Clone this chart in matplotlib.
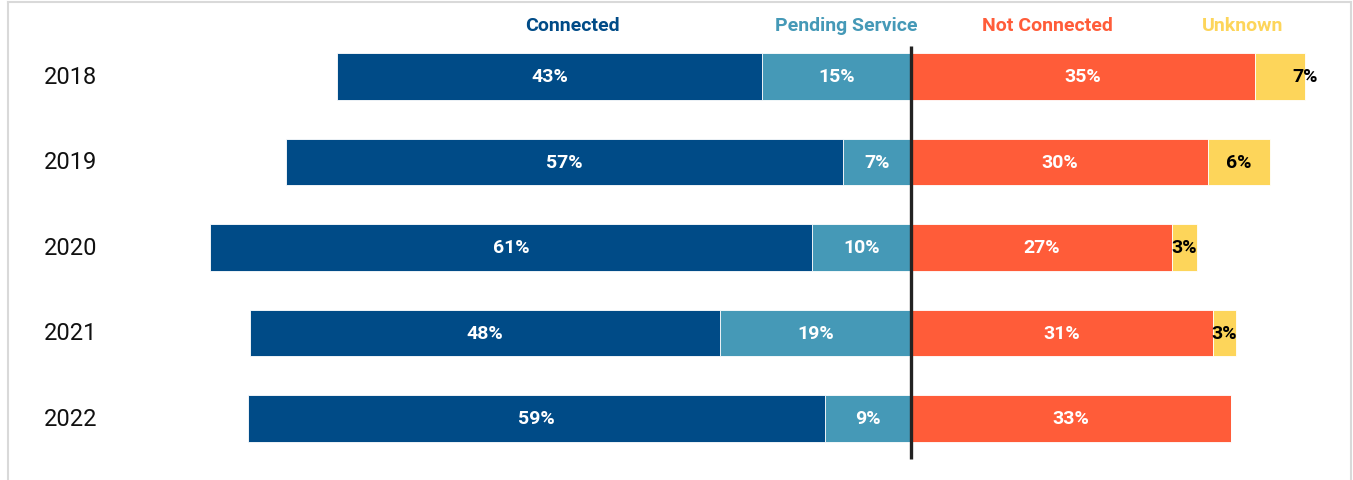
import matplotlib.pyplot as plt
from matplotlib.lines import Line2D

# data (bar widths in %, labels as printed)
years = ['2018', '2019', '2020', '2021', '2022']
connected = [43.4, 56.9, 61.4, 47.9, 58.9]
pending = [15.2, 6.9, 10.1, 19.5, 8.8]
not_connected = [35.1, 30.3, 26.6, 30.8, 32.7]
unknown = [5.1, 6.3, 2.6, 2.4, 0.0]

connected_lbl = ['43%', '57%', '61%', '48%', '59%']
pending_lbl = ['15%', '7%', '10%', '19%', '9%']
not_connected_lbl = ['35%', '30%', '27%', '31%', '33%']
unknown_lbl = ['7%', '6%', '3%', '3%', '']

series_names = ['Connected', 'Pending Service', 'Not Connected', 'Unknown']
colors = ['#004b87', '#4599b7', '#ff5c39', '#fdd55a']

W, H = 1353, 481
px_per_pct = 9.8
center_px = 911

fig = plt.figure(figsize=(W / 100, H / 100), dpi=100)
ax = fig.add_axes([0, 0, 1, 1])
ax.axis('off')
ax.set_xlim(-center_px / px_per_pct, (W - center_px) / px_per_pct)
# rows are 85.5 px apart, first row centred at y=77.5 px
ax.set_ylim((H - 77.5) / 85.5, -77.5 / 85.5)

y = list(range(len(years)))
bh = 0.54
ekw = dict(edgecolor='white', linewidth=0.6)

neg_pending = [-p for p in pending]
neg_connected = [-c for c in connected]
ax.barh(y, neg_pending, height=bh, color=colors[1], **ekw)
ax.barh(y, neg_connected, left=neg_pending, height=bh, color=colors[0], **ekw)
ax.barh(y, not_connected, height=bh, color=colors[2], **ekw)
ax.barh(y, unknown, left=not_connected, height=bh, color=colors[3], **ekw)

lab_font = dict(family='Roboto', fontweight='bold', fontsize=14,
                ha='center', va='center')
for i in y:
    ax.text(-pending[i] / 2, i, pending_lbl[i], color='white', **lab_font)
    ax.text(-pending[i] - connected[i] / 2, i, connected_lbl[i],
            color='white', **lab_font)
    ax.text(not_connected[i] / 2, i, not_connected_lbl[i], color='white',
            **lab_font)
    # the 2018 label sits past the end of its short segment
    ux = not_connected[i] + unknown[i] / 2
    if unknown[i] > 4 and unknown[i] < 6:
        ux = not_connected[i] + unknown[i]
    ax.text(ux, i, unknown_lbl[i], color='black', **lab_font)
    ax.text(-88.5, i, years[i], family='Roboto', fontsize=17,
            ha='left', va='center', color='#111111')

# centre divider
ax.vlines(0, -0.36, len(years) - 1 + 0.47, color='#222222', linewidth=2.4)

# series names across the top
head_x = [-34.5, -6.6, 13.9, 33.8]
for name, c, hx in zip(series_names, colors, head_x):
    ax.text(hx, -0.6, name, color=c, family='Roboto', fontweight='bold',
            fontsize=14, ha='center', va='center')

# light frame around the panel
fc = '#d9d9d9'
fig.add_artist(Line2D([7.5 / W, 7.5 / W], [0, 1 - 3 / H], color=fc, lw=1.5))
fig.add_artist(Line2D([7.5 / W, 1351 / W], [1 - 3 / H, 1 - 3 / H], color=fc, lw=1.5))
fig.add_artist(Line2D([1351 / W, 1351 / W], [0, 1 - 3 / H], color=fc, lw=1.5))

fig.savefig('out.png', dpi=100)
